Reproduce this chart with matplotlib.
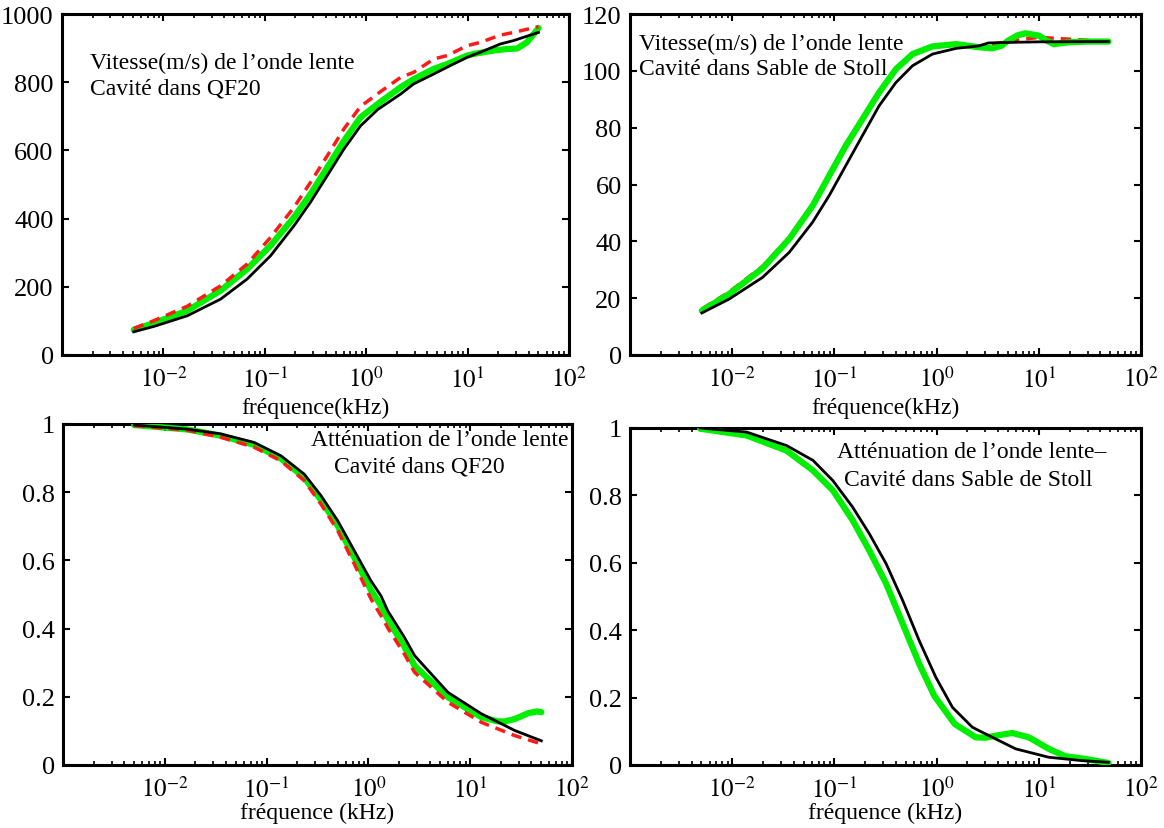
import matplotlib
matplotlib.use('Agg')
import matplotlib.pyplot as plt
from matplotlib.ticker import LogLocator, FixedLocator, FormatStrFormatter, NullFormatter

plt.rcParams['font.family'] = ['Liberation Serif', 'DejaVu Serif']
plt.rcParams['mathtext.fontset'] = 'stix'

# --- Vitesse, QF20 ---
f_v1_black = [0.0051, 0.0081, 0.0172, 0.0367, 0.0671, 0.114, 0.194, 0.282, 0.413, 0.603, 0.879, 1.3,
              2.18, 2.94, 4.63, 6.28, 9.89, 13.4, 21.0, 28.4, 50]
v1_black = [68, 84, 115, 164, 223, 291, 379, 448, 526, 604, 672, 720,
            765, 795, 824, 844, 873, 888, 912, 922, 946]
f_v1_red = [0.0051, 0.0081, 0.0172, 0.0367, 0.0671, 0.114, 0.194, 0.282, 0.413, 0.603, 0.879, 1.38,
            2.18, 2.94, 4.63, 6.28, 9.89, 13.4, 21.0, 28.4, 50]
v1_red = [78, 101, 143, 203, 267, 345, 433, 506, 584, 663, 729, 772,
          814, 829, 868, 878, 907, 917, 938, 946, 963]
f_v1_green = [0.0051, 0.0081, 0.0172, 0.0367, 0.0671, 0.114, 0.194, 0.282, 0.413, 0.603, 0.879, 1.35,
              2.18, 2.94, 4.63, 6.28, 9.89, 11.5, 18.1, 24.0, 30.9, 38.5, 44.8, 50]
v1_green = [74, 94, 130, 189, 252, 321, 404, 472, 550, 628, 697, 740,
            785, 809, 839, 853, 878, 883, 893, 897, 899, 917, 941, 959]

# --- Vitesse, Sable de Stoll ---
f_v2_black = [0.00505, 0.00935, 0.0198, 0.0361, 0.0611, 0.0889, 0.129, 0.188, 0.274, 0.400, 0.582, 0.912,
              1.55, 2.61, 3.2, 5.0, 10, 48]
v2_black = [14.8, 19.7, 27.3, 36.1, 46.7, 56.1, 66.6, 77.2, 87.7, 95.9, 101.8, 105.9,
            107.9, 108.8, 109.8, 110.0, 110.2, 110.3]
f_v2_green = [0.00505, 0.00935, 0.0198, 0.0361, 0.0611, 0.0889, 0.129, 0.188, 0.274, 0.400, 0.582, 0.912,
              1.55, 2.61, 3.5, 4.3, 5.0, 6.2, 7.4, 10, 12, 14, 19, 29, 48]
v2_green = [15.6, 21.5, 30.5, 40.8, 52.5, 63.1, 73.6, 83.0, 92.4, 100.6, 105.9, 108.6,
            109.4, 108.3, 107.9, 108.8, 110.6, 112.5, 113.2, 112.4, 110.6, 109.4, 110.0, 110.3, 110.3]
f_v2_red = [0.00505, 0.00935, 0.0198, 0.0361, 0.0611, 0.0889, 0.129, 0.188, 0.274, 0.400, 0.582, 0.912,
            1.55, 2.61, 5.0, 10, 48]
v2_red = [16.2, 22.2, 31.2, 41.4, 53.0, 63.4, 73.8, 83.2, 92.5, 100.6, 105.9, 108.6,
          109.4, 108.5, 110.4, 111.8, 110.3]

# --- Atténuation, QF20 ---
f_a1 = [0.005, 0.0166, 0.0354, 0.0753, 0.138, 0.234, 0.342, 0.500, 0.728, 1.06, 1.33, 1.55,
        2.26, 2.84, 6.04, 12.9, 27.5, 50]
a1_black = [0.997, 0.985, 0.971, 0.946, 0.907, 0.853, 0.790, 0.716, 0.628, 0.540, 0.496, 0.452,
            0.374, 0.321, 0.213, 0.150, 0.101, 0.071]
a1_red = [0.995, 0.982, 0.961, 0.932, 0.892, 0.834, 0.765, 0.687, 0.589, 0.487, 0.438, 0.402,
          0.325, 0.272, 0.184, 0.125, 0.086, 0.062]
f_a1_green = [0.005, 0.0166, 0.0354, 0.0753, 0.138, 0.234, 0.342, 0.500, 0.728, 1.06, 1.33, 1.55,
              2.26, 2.84, 6.04, 12.9, 18.6, 22.0, 27.5, 37.2, 45.0, 50]
a1_green = [0.997, 0.984, 0.966, 0.939, 0.899, 0.843, 0.777, 0.701, 0.608, 0.513, 0.467, 0.427,
            0.347, 0.291, 0.199, 0.140, 0.128, 0.128, 0.135, 0.152, 0.157, 0.155]

# --- Atténuation, Sable de Stoll ---
f_a2_black = [0.00485, 0.0138, 0.034, 0.0617, 0.0966, 0.151, 0.220, 0.321, 0.466, 0.676, 0.984,
              1.43, 2.24, 2.80, 5.93, 12.5, 26.4, 48]
a2_black = [1.0, 0.988, 0.948, 0.904, 0.844, 0.765, 0.686, 0.597, 0.488, 0.369, 0.260,
            0.171, 0.112, 0.097, 0.048, 0.023, 0.013, 0.008]
f_a2_green = [0.00485, 0.0138, 0.034, 0.0617, 0.0966, 0.151, 0.220, 0.321, 0.466, 0.676, 0.95,
              1.5, 2.42, 3.0, 3.78, 5.5, 8.0, 12.5, 18.2, 28.5, 48]
a2_green = [0.998, 0.978, 0.933, 0.874, 0.815, 0.726, 0.636, 0.538, 0.419, 0.300, 0.205,
            0.122, 0.082, 0.081, 0.087, 0.095, 0.082, 0.048, 0.026, 0.018, 0.006]
f_a2_red = [0.00485, 0.0138, 0.034, 0.0617, 0.0966]
a2_red = [0.997, 0.975, 0.930, 0.870, 0.811]

fig = plt.figure(figsize=(11.64, 8.29), dpi=100)
ax1 = fig.add_axes([62 / 1164, 1 - 356 / 829, 507 / 1164, 341 / 829])
ax2 = fig.add_axes([630 / 1164, 1 - 356 / 829, 511 / 1164, 341 / 829])
ax3 = fig.add_axes([63 / 1164, 1 - 766 / 829, 509 / 1164, 341 / 829])
ax4 = fig.add_axes([630 / 1164, 1 - 766 / 829, 511 / 1164, 337 / 829])

green = '#00ee00'
red = '#ff1a1a'


def draw(ax, fg, g, fr, r, fb, b, red_on_top=True):
    ax.plot(fg, g, color=green, lw=4.5, solid_capstyle='round', solid_joinstyle='round', zorder=3)
    ax.plot(fr, r, color=red, lw=2.5, dashes=(3, 2), zorder=4 if red_on_top else 2)
    ax.plot(fb, b, color='black', lw=2, zorder=5)


draw(ax1, f_v1_green, v1_green, f_v1_red, v1_red, f_v1_black, v1_black)
draw(ax2, f_v2_green, v2_green, f_v2_red, v2_red, f_v2_black, v2_black, red_on_top=False)
draw(ax3, f_a1_green, a1_green, f_a1, a1_red, f_a1, a1_black)
draw(ax4, f_a2_green, a2_green, f_a2_red, a2_red, f_a2_black, a2_black, red_on_top=False)

ax1.set_ylim(0, 1000)
ax1.set_yticks([0, 200, 400, 600, 800, 1000])
ax2.set_ylim(0, 120)
ax2.set_yticks([0, 20, 40, 60, 80, 100, 120])
for ax in (ax3, ax4):
    ax.set_ylim(0, 1)
    ax.set_yticks([0, 0.2, 0.4, 0.6, 0.8, 1])

for ax in (ax1, ax2, ax3, ax4):
    ax.set_xscale('log')
    ax.set_xlim(1e-3, 1e2)
    ax.xaxis.set_major_locator(FixedLocator([1e-2, 1e-1, 1, 10, 100]))
    ax.xaxis.set_minor_locator(LogLocator(base=10, subs=range(2, 10), numticks=20))
    ax.xaxis.set_minor_formatter(NullFormatter())
    ax.set_xticklabels(['$10^{-2}$', '$10^{-1}$', '$10^{0}$', '$10^{1}$', '$10^{2}$'])
    ax.yaxis.set_major_formatter(FormatStrFormatter('%g'))
    ax.tick_params(which='both', direction='in', top=True, right=True)
    ax.tick_params(axis='y', labelsize=19, pad=6)
    ax.tick_params(axis='x', labelsize=18, pad=8)
    ax.tick_params(which='major', length=5, width=1.5)
    ax.tick_params(which='minor', length=3, width=1.2)
    for s in ax.spines.values():
        s.set_linewidth(2.2)

ax1.set_xlabel('fréquence(kHz)', fontsize=17, labelpad=4)
ax2.set_xlabel('fréquence(kHz)', fontsize=17, labelpad=4)
ax3.set_xlabel('fréquence (kHz)', fontsize=17, labelpad=0)
ax4.set_xlabel('fréquence (kHz)', fontsize=17, labelpad=0)

fs = 17
ax1.text(0.055, 0.858, 'Vitesse(m/s) de l’onde lente', transform=ax1.transAxes, fontsize=fs, va='center')
ax1.text(0.055, 0.784, 'Cavité dans QF20', transform=ax1.transAxes, fontsize=fs, va='center')
ax2.text(0.018, 0.915, 'Vitesse(m/s) de l’onde lente', transform=ax2.transAxes, fontsize=fs, va='center')
ax2.text(0.018, 0.841, 'Cavité dans Sable de Stoll', transform=ax2.transAxes, fontsize=fs, va='center')
ax3.text(0.487, 0.956, 'Atténuation de l’onde lente', transform=ax3.transAxes, fontsize=fs, va='center')
ax3.text(0.532, 0.876, 'Cavité dans QF20', transform=ax3.transAxes, fontsize=fs, va='center')
ax4.text(0.405, 0.929, 'Atténuation de l’onde lente–', transform=ax4.transAxes, fontsize=fs, va='center')
ax4.text(0.418, 0.847, 'Cavité dans Sable de Stoll', transform=ax4.transAxes, fontsize=fs, va='center')

fig.savefig('out.png', dpi=100)
